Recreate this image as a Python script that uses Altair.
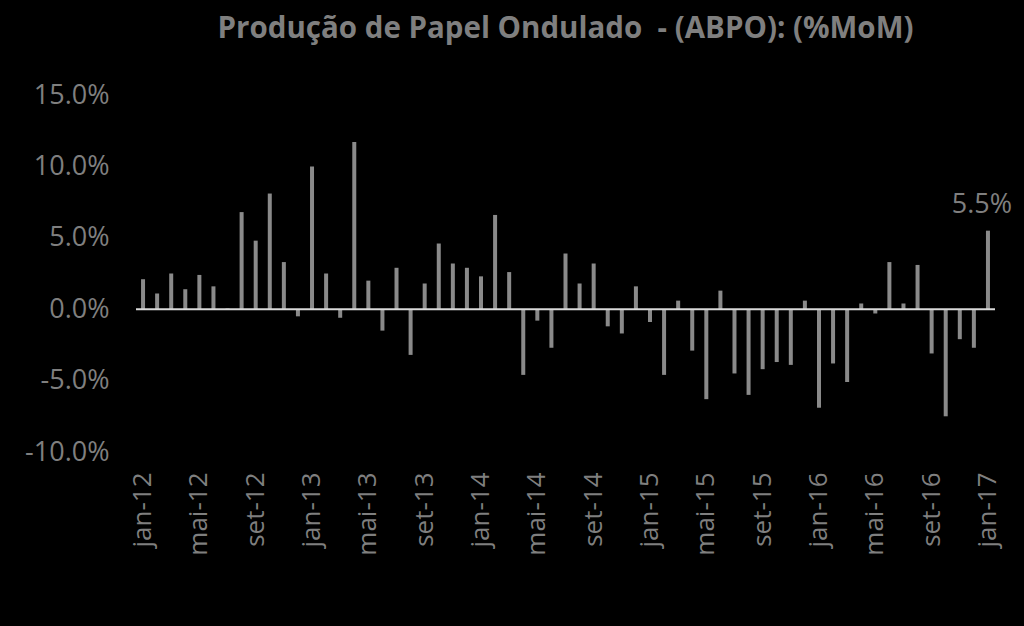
import altair as alt
import pandas as pd

months_pt = ["jan", "fev", "mar", "abr", "mai", "jun", "jul", "ago", "set", "out", "nov", "dez"]
periods = [f"{months_pt[i % 12]}-{12 + i // 12}" for i in range(61)]

values = [
    2.1, 1.1, 2.5, 1.4, 2.4, 1.6, 0.05, 6.8, 4.8, 8.1, 3.3, -0.5,
    10.0, 2.5, -0.6, 11.7, 2.0, -1.5, 2.9, -3.2, 1.8, 4.6, 3.2, 2.9,
    2.3, 6.6, 2.6, -4.6, -0.8, -2.7, 3.9, 1.8, 3.2, -1.2, -1.7, 1.6,
    -0.9, -4.6, 0.6, -2.9, -6.3, 1.3, -4.5, -6.0, -4.2, -3.7, -3.9, 0.6,
    -6.9, -3.8, -5.1, 0.4, -0.3, 3.3, 0.4, 3.1, -3.1, -7.5, -2.1, -2.7,
    5.5,
]
label_ticks = [p for p in periods if p.split("-")[0] in ("jan", "mai", "set")]

df = pd.DataFrame({"periodo": periods, "valor": values})
df["rotulo"] = ["" for _ in periods]
df.loc[df.index[-1], "rotulo"] = f"{values[-1]:.1f}%"

GRAY = "#8a8a8a"
TXT = "#7f7f7f"
FONT = "Open Sans"

x = alt.X(
    "periodo:N",
    sort=periods,
    scale=alt.Scale(paddingInner=0, paddingOuter=0),
    axis=alt.Axis(
        values=label_ticks,
        labelAngle=-90,
        labelAlign="right",
        labelBaseline="middle",
        labelPadding=20,
        labelFontSize=26,
        labelColor=TXT,
        labelFont=FONT,
        domain=False,
        ticks=False,
        grid=False,
        title=None,
    ),
)

y = alt.Y(
    "valor:Q",
    scale=alt.Scale(domain=[-10, 15], nice=False),
    axis=alt.Axis(
        values=[-10, -5, 0, 5, 10, 15],
        labelExpr="replace(format(datum.value, '.1f'), '\u2212', '-') + '%'",
        labelFontSize=27,
        labelColor=TXT,
        labelFont=FONT,
        labelPadding=27,
        domain=False,
        ticks=False,
        grid=False,
        title=None,
    ),
)

bars = alt.Chart(df).mark_bar(size=4, color=GRAY).encode(x=x, y=y)

zero = alt.Chart(pd.DataFrame({"z": [0]})).mark_rule(color="#d9d9d9", strokeWidth=2).encode(
    y=alt.Y("z:Q", scale=alt.Scale(domain=[-10, 15], nice=False))
)

lbl = alt.Chart(df[df["rotulo"] != ""]).mark_text(
    fontSize=27, color=TXT, font=FONT, baseline="bottom", dy=-12, dx=-6
).encode(x=alt.X("periodo:N", sort=periods), y=alt.Y("valor:Q"), text="rotulo:N")

chart = (
    alt.layer(bars, zero, lbl)
    .properties(
        width=859,
        height=357,
        background="black",
        autosize=alt.AutoSizeParams(type="none"),
        padding={"left": 136, "top": 95, "right": 29, "bottom": 174},
        title=alt.TitleParams(
            "Produção de Papel Ondulado \u00a0- (ABPO): (%MoM)",
            font=FONT,
            fontSize=29.5,
            fontWeight="bold",
            color=TXT,
            anchor="middle",
            offset=37,
        ),
    )
    .configure_view(stroke=None)
)

chart.save("out.html", embed_options={"renderer": "svg", "actions": False})
